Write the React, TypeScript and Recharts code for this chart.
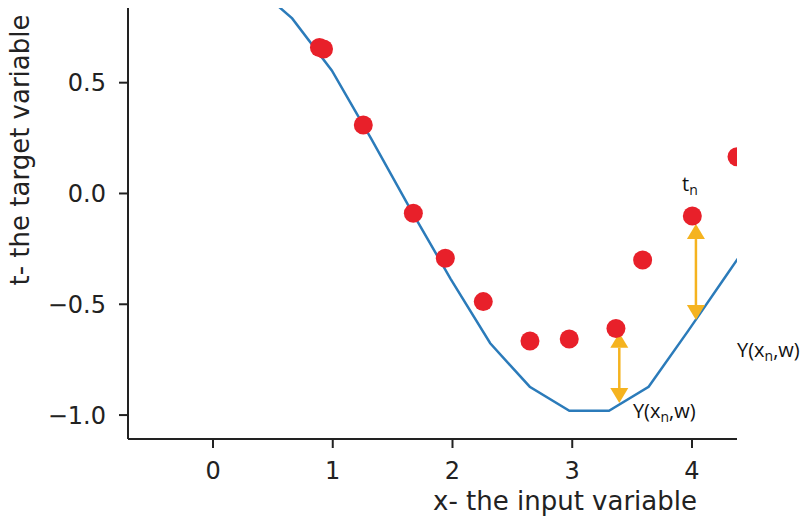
import React from 'react';
import {
  ComposedChart,
  Line,
  Scatter,
  XAxis,
  YAxis,
  ReferenceLine,
  ReferenceDot,
} from 'recharts';

// fitted curve Y(x, w), sampled
const curveX = [0, 0.331, 0.661, 0.992, 1.323, 1.653, 1.984, 2.315, 2.645, 2.976, 3.307, 3.638, 3.968, 4.299, 4.63];
const curveY = [1.0, 0.946, 0.79, 0.555, 0.245, -0.075, -0.385, -0.676, -0.872, -0.981, -0.981, -0.872, -0.62, -0.36, -0.1];

// observed targets t
const pointsX = [0.889, 0.923, 1.255, 1.673, 1.94, 2.257, 2.647, 2.975, 3.365, 3.588, 4.003, 4.376];
const pointsY = [0.659, 0.652, 0.309, -0.089, -0.292, -0.488, -0.666, -0.657, -0.609, -0.3, -0.102, 0.166];

const xTicks = [0, 1, 2, 3, 4];
const yTicks = [-1.0, -0.5, 0.0, 0.5];

// error arrows: x, top, bottom
const arrowX = [3.393, 4.033];
const arrowTop = [-0.628, -0.138];
const arrowBottom = [-0.946, -0.571];

// text annotations
const noteX = [3.917, 3.507, 4.376];
const noteY = [0.011, -1.0135, -0.738];
const noteKind = ['t', 'y', 'y'];

const curveData = curveX.map((x, i) => ({ x, y: curveY[i] }));
const pointData = pointsX.map((x, i) => ({ x, y: pointsY[i] }));

const AXIS = '#222222';
const BLUE = '#2b7bba';
const RED = '#e8202a';
const ORANGE = '#f5b31f';

// plot box, used to clip the markers at the axes edge
const PLOT = { left: 128, top: 8, width: 609, height: 431 };

const fmtY = (v: number) => {
  const s = Math.abs(v).toFixed(1);
  return v < 0 ? '\u2212' + s : s;
};

const Arrow = (props: any) => {
  const { x1, y1, x2, y2 } = props;
  const head = 15;
  const half = 9;
  const dir = y2 > y1 ? 1 : -1;
  const top = `${x1},${y1} ${x1 - half},${y1 + dir * head} ${x1 + half},${y1 + dir * head}`;
  const bot = `${x2},${y2} ${x2 - half},${y2 - dir * head} ${x2 + half},${y2 - dir * head}`;
  return (
    <g>
      <line x1={x1} y1={y1 + dir * head} x2={x2} y2={y2 - dir * head} stroke={ORANGE} strokeWidth={2.5} />
      <polygon points={top} fill={ORANGE} />
      <polygon points={bot} fill={ORANGE} />
    </g>
  );
};

const Note = (kind: string) => (props: any) => {
  const { cx, cy } = props;
  const style = { fontFamily: '"Open Sans", sans-serif', fontSize: 20, fill: '#111' };
  if (kind === 't') {
    return (
      <text x={cx} y={cy} style={style}>
        t<tspan fontSize={14} dy={4}>n</tspan>
      </text>
    );
  }
  return (
    <text x={cx} y={cy} style={style}>
      Y(x<tspan fontSize={14} dy={4}>n</tspan>
      <tspan dy={-4}>,w)</tspan>
    </text>
  );
};

const Dot = (props: any) => {
  const id = `dot-clip-${props.index}`;
  return (
    <g>
      <defs>
        <clipPath id={id}>
          <rect x={PLOT.left} y={PLOT.top} width={PLOT.width} height={PLOT.height} />
        </clipPath>
      </defs>
      <circle cx={props.cx} cy={props.cy} r={9.5} fill={RED} clipPath={`url(#${id})`} />
    </g>
  );
};

export default function App() {
  return (
    <div style={{ position: 'absolute', left: 0, top: 0, background: '#fff' }}>
      <ComposedChart width={805} height={521} margin={{ top: 8, right: 68, bottom: 0, left: 0 }}>
        <XAxis
          type="number"
          dataKey="x"
          domain={[-0.71, 4.376]}
          allowDataOverflow
          ticks={xTicks}
          height={82}
          tickSize={9}
          tickMargin={14}
          axisLine={{ stroke: AXIS, strokeWidth: 2 }}
          tickLine={{ stroke: AXIS, strokeWidth: 2 }}
          tick={{ fontSize: 24, fontFamily: 'DejaVu Sans', fill: AXIS }}
          label={{
            content: () => (
              <text x={565} y={510} textAnchor="middle" style={{ fontSize: 26, fontFamily: 'DejaVu Sans', fill: AXIS }}>
                x- the input variable
              </text>
            ),
          }}
        />
        <YAxis
          type="number"
          dataKey="y"
          domain={[-1.108, 0.837]}
          allowDataOverflow
          ticks={yTicks}
          width={128}
          tickSize={9}
          tickMargin={13}
          tickFormatter={fmtY}
          axisLine={{ stroke: AXIS, strokeWidth: 2 }}
          tickLine={{ stroke: AXIS, strokeWidth: 2 }}
          tick={{ fontSize: 24, fontFamily: 'DejaVu Sans', fill: AXIS }}
          label={{
            content: () => (
              <text
                x={29}
                y={150}
                textAnchor="middle"
                transform="rotate(-90, 29, 150)"
                style={{ fontSize: 26, fontFamily: 'DejaVu Sans', fill: AXIS }}
              >
                t- the target variable
              </text>
            ),
          }}
        />
        <Line
          data={curveData}
          dataKey="y"
          type="linear"
          stroke={BLUE}
          strokeWidth={2.5}
          dot={false}
          activeDot={false}
          isAnimationActive={false}
        />
        <Scatter data={pointData} dataKey="y" fill={RED} shape={Dot} isAnimationActive={false} />
        {arrowX.map((x, i) => (
          <ReferenceLine
            key={`arr-${i}`}
            segment={[
              { x, y: arrowTop[i] },
              { x, y: arrowBottom[i] },
            ]}
            ifOverflow="visible"
            shape={Arrow}
          />
        ))}
        {noteX.map((x, i) => (
          <ReferenceDot key={`note-${i}`} x={x} y={noteY[i]} r={0} ifOverflow="visible" shape={Note(noteKind[i])} />
        ))}
      </ComposedChart>
    </div>
  );
}
